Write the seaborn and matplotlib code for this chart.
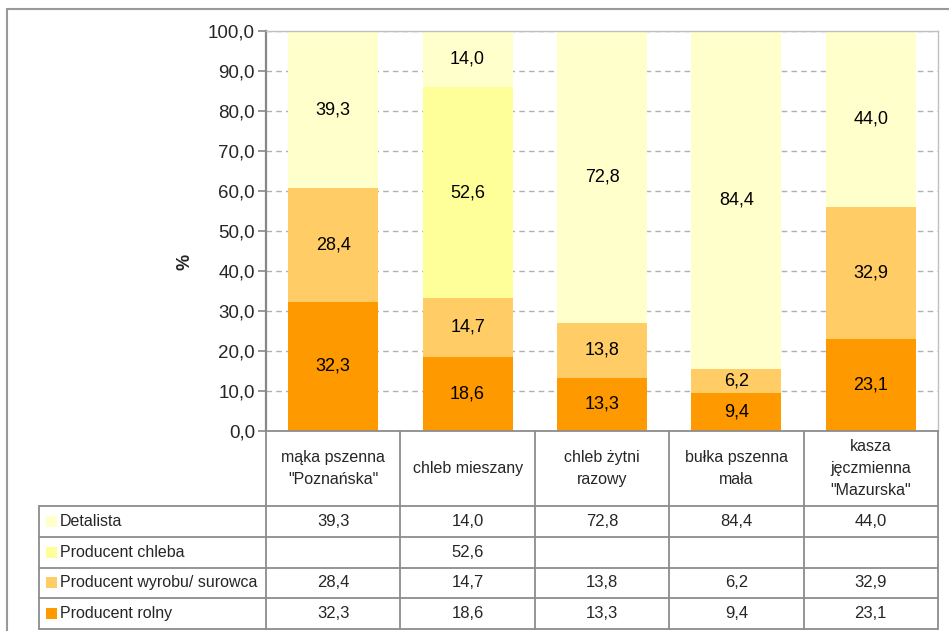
import numpy as np
import pandas as pd
import seaborn as sns
from matplotlib import pyplot as plt
from matplotlib.patches import Rectangle

categories = ['mąka pszenna\n"Poznańska"', "chleb mieszany", "chleb żytni\nrazowy",
              "bułka pszenna\nmała", 'kasza\njęczmienna\n"Mazurska"']
series_names = ["Detalista", "Producent chleba", "Producent wyrobu/ surowca", "Producent rolny"]
detalista = [39.3, 14.0, 72.8, 84.4, 44.0]
producent_chleba = [np.nan, 52.6, np.nan, np.nan, np.nan]
producent_wyrobu = [28.4, 14.7, 13.8, 6.2, 32.9]
producent_rolny = [32.3, 18.6, 13.3, 9.4, 23.1]
colors = ["#FFFFCC", "#FFFF99", "#FFCC66", "#FF9900"]
yticks = [0, 10, 20, 30, 40, 50, 60, 70, 80, 90, 100]


def fmt(v):
    return f"{v:.1f}".replace(".", ",")


def main():
    sns.set_theme(style="white")
    plt.rcParams["font.family"] = ["Liberation Sans", "DejaVu Sans"]

    W, H = 949, 631
    fig = plt.figure(figsize=(W / 100, H / 100), dpi=100)
    fig.patch.set_facecolor("white")

    # outer frame (only top and left visible in the crop)
    fig.patches.append(Rectangle((7 / W, -0.1), 1.2, 1 - 9 / H + 0.1, transform=fig.transFigure,
                                 fill=False, edgecolor="#999999", linewidth=1.5))

    ax = fig.add_axes([266 / W, 1 - 431 / H, (938 - 266) / W, (431 - 31) / H])

    df = pd.DataFrame({"cat": categories,
                       series_names[0]: detalista,
                       series_names[1]: producent_chleba,
                       series_names[2]: producent_wyrobu,
                       series_names[3]: producent_rolny}).fillna(0)

    # cumulative heights, drawn from the top series down so each layer covers the one above
    cum = df[series_names[::-1]].cumsum(axis=1)
    for name, color in zip(series_names, colors):
        sns.barplot(x=df["cat"], y=cum[name], color=color, saturation=1, width=0.67,
                    errorbar=None, linewidth=0, order=categories, ax=ax)

    for name in series_names:
        tops = cum[name].values
        vals = df[name].values
        for i, (t, v) in enumerate(zip(tops, vals)):
            if v > 0:
                ax.text(i, t - v / 2, fmt(v), ha="center", va="center", fontsize=13, color="black")

    ax.set_ylim(0, 100)
    ax.set_xlim(-0.5, 4.5)
    ax.set_yticks(yticks)
    ax.set_yticklabels([fmt(t) for t in yticks], fontsize=13.5)
    ax.set_xticks([])
    ax.set_xlabel("")
    ax.set_ylabel("")
    ax.set_axisbelow(True)
    ax.yaxis.grid(True, linestyle=(0, (4, 3)), color="#b0b0b0", linewidth=1)
    ax.tick_params(axis="y", length=6, width=1.2, color="#888888", pad=2, left=True)
    ax.spines["left"].set_color("#888888")
    ax.spines["left"].set_linewidth(1.6)
    for s in ["top", "right"]:
        ax.spines[s].set_color("#c0c0c0")
        ax.spines[s].set_linewidth(1)
    ax.spines["bottom"].set_visible(False)

    fig.text(185 / W, 1 - 262 / H, "%", rotation=90, ha="center", va="center",
             fontsize=13, fontweight="bold")

    # data table under the chart
    label_w = 227 / 134.4
    tax = fig.add_axes([39 / W, 1 - 629 / H, (938 - 39) / W, (629 - 431) / H])
    tax.set_xlim(-0.5 - label_w, 4.5)
    tax.set_ylim(198, 0)
    tax.axis("off")
    line_kw = dict(color="#8c8c8c", linewidth=1.3, clip_on=False)
    header_h = 75
    row_h = (198 - header_h) / 4
    left = -0.5 - label_w

    tax.plot([-0.5, 4.5], [0, 0], **line_kw)
    for r in range(5):
        y = header_h + r * row_h
        tax.plot([left, 4.5], [y, y], **line_kw)
    for k in range(6):
        tax.plot([k - 0.5, k - 0.5], [0, 198], **line_kw)
    tax.plot([left, left], [header_h, 198], **line_kw)

    for i, cat in enumerate(categories):
        tax.text(i, header_h / 2, cat, ha="center", va="center", fontsize=11.5, linespacing=1.62)

    px = 1 / 134.4
    rows = [detalista, producent_chleba, producent_wyrobu, producent_rolny]
    for r, (name, color, vals) in enumerate(zip(series_names, colors, rows)):
        yc = header_h + (r + 0.5) * row_h
        tax.add_patch(Rectangle((left + 7 * px, yc - 5.5), 11 * px, 11, facecolor=color,
                                edgecolor="none", clip_on=False))
        tax.text(left + 21 * px, yc, name, ha="left", va="center", fontsize=11.5)
        for i, v in enumerate(vals):
            if not np.isnan(v):
                tax.text(i, yc, fmt(v), ha="center", va="center", fontsize=12)

    fig.savefig("out.png", dpi=100, facecolor="white")


if __name__ == '__main__':
    main()
